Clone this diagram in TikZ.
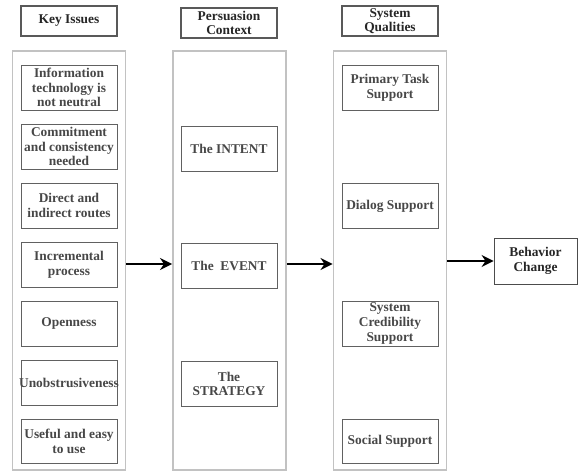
\documentclass[tikz,border=0pt]{standalone}
\usepackage{fontspec}
\setmainfont{Liberation Serif}
\usetikzlibrary{arrows.meta}
\begin{document}
\begin{tikzpicture}[x=1pt,y=-1pt,
  frame/.style={draw=black!24,line width=1.9pt},
  item/.style={draw=black!62,line width=0.8pt,text=black!72,font=\bfseries\fontsize{13.4}{14.6}\selectfont,align=center,inner sep=0pt},
  head/.style={draw=black!65,line width=1.1pt,text=black!85,font=\bfseries\fontsize{13.4}{14.6}\selectfont,align=center,inner sep=0pt},
  flow/.style={line width=2.7pt,-{Stealth[length=12pt,width=12pt]}}]
\useasboundingbox (0,0) rectangle (579,472);
% headers
\node[head,minimum width=96pt,minimum height=30pt] (h1) at (69,21) {Key Issues};
\node[head,minimum width=96pt,minimum height=30pt] (h2) at (229,23) {Persuasion\\Context};
\node[head,minimum width=96pt,minimum height=30pt] (h3) at (390,21) {System\\Qualities};
% frames
\node[frame,minimum width=113pt,minimum height=419pt,inner sep=0pt] (c1) at (69,260.5) {};
\node[frame,minimum width=113pt,minimum height=419pt,inner sep=0pt] (c2) at (229.5,260.5) {};
\node[frame,minimum width=113pt,minimum height=419pt,inner sep=0pt] (c3) at (390,260.5) {};
% key issues
\node[item,minimum width=96pt,minimum height=45pt] (k1) at (69,87.5) {Information\\technology is\\not neutral};
\node[item,minimum width=96pt,minimum height=45pt] (k2) at (69,146.5) {Commitment\\and consistency\\needed};
\node[item,minimum width=96pt,minimum height=45pt] (k3) at (69,205.5) {Direct and\\indirect routes};
\node[item,minimum width=96pt,minimum height=45pt] (k4) at (69,264.5) {Incremental\\process};
\node[item,minimum width=96pt,minimum height=45pt] (k5) at (69,323.5) {Openness};
\node[item,minimum width=96pt,minimum height=45pt] (k6) at (69,382.5) {};
\node[text=black!72,font=\bfseries\fontsize{13.4}{14.6}\selectfont,inner sep=0pt] (k6t) at (69,383) {Unobstrusiveness};
\node[item,minimum width=96pt,minimum height=44pt] (k7) at (69,441.5) {Useful and easy\\to use};
% persuasion context
\node[item,minimum width=96pt,minimum height=45pt] (p1) at (229,148.5) {The INTENT};
\node[item,minimum width=96pt,minimum height=45pt] (p2) at (229,266) {The\ \ EVENT};
\node[item,minimum width=96pt,minimum height=45pt] (p3) at (229,384) {The\\STRATEGY};
% system qualities
\node[item,minimum width=96pt,minimum height=45pt] (s1) at (390,87.5) {Primary Task\\Support};
\node[item,minimum width=96pt,minimum height=45pt] (s2) at (390,206) {Dialog Support};
\node[item,minimum width=96pt,minimum height=45pt] (s3) at (390,323.5) {System\\Credibility\\Support};
\node[item,minimum width=96pt,minimum height=44pt] (s4) at (390,441.5) {Social Support};
% outcome
\node[item,draw=black!70,text=black!85,minimum width=83pt,minimum height=46pt] (b) at (535.5,261) {Behavior\\Change};
% arrows
\draw[flow] (c1.east |- 0,264) -- (c2.west |- 0,264);
\draw[flow] (c2.east |- 0,264) -- (c3.west |- 0,264);
\draw[flow] (c3.east |- b.west) -- (b.west);
\end{tikzpicture}
\end{document}
